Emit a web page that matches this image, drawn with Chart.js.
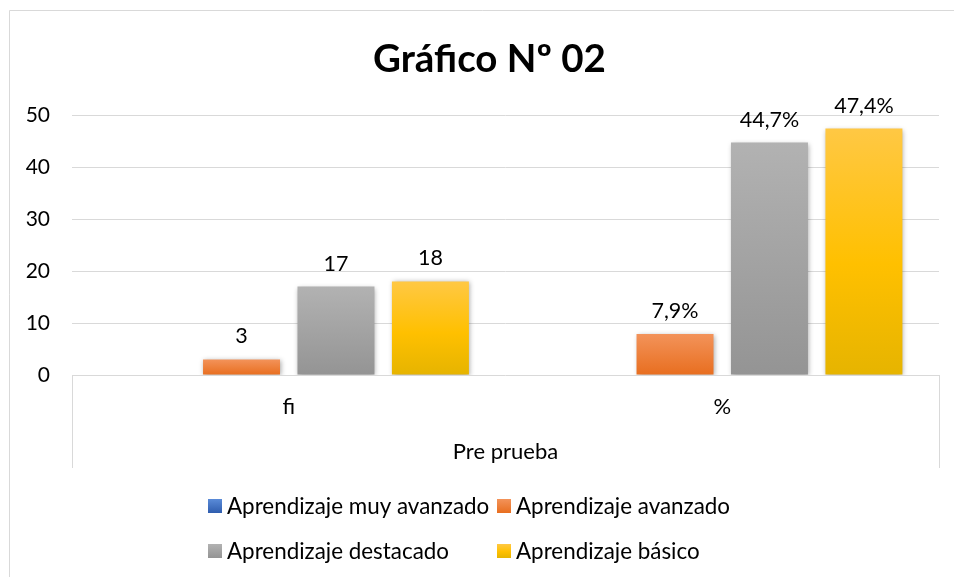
<!DOCTYPE html>
<html><head><meta charset="utf-8">
<script src="https://cdn.jsdelivr.net/npm/chart.js@4/dist/chart.umd.min.js"></script>
<style>html,body{margin:0;padding:0;background:#fff}canvas{display:block}</style>
</head><body>
<canvas id="c" width="954" height="577"></canvas>
<script>
// ---- data ----
const chartTitle = 'Gráfico Nº 02';
const groupTitle = 'Pre prueba';
const categories = ['fi', '%'];
const seriesNames = ['Aprendizaje muy avanzado', 'Aprendizaje avanzado', 'Aprendizaje destacado', 'Aprendizaje básico'];
const muyAvanzado = [0, 0];
const avanzado = [3, 7.9];
const destacado = [17, 44.7];
const basico = [18, 47.4];
const yMin = 0, yMax = 50, yStep = 10;

// ---- style ----
const FONT = 'Lato, "Open Sans", sans-serif';
const gradients = [
  [[0, '#5A8BD8'], [1, '#2F5DAE']],
  [[0, '#F3935A'], [1, '#E86E1F']],
  [[0, '#B2B2B2'], [1, '#949494']],
  [[0, '#FFC844'], [0.55, '#FFC000'], [1, '#E6B400']]
];
const showLabels = [false, true, true, true];
const seriesValues = [muyAvanzado, avanzado, destacado, basico];

function fmt(v, i) {
  return i === 0 ? String(Math.round(v)) : v.toFixed(1).replace('.', ',') + '%';
}

function barGradient(stops) {
  return function (ctx) {
    const chart = ctx.chart;
    if (ctx.type !== 'data' || !chart.chartArea || !chart.scales || !chart.scales.y) return stops[Math.floor(stops.length / 2)][1];
    const y = chart.scales.y;
    const top = y.getPixelForValue(ctx.raw);
    const base = y.getPixelForValue(0);
    if (!(base - top > 0.5)) return stops[0][1];
    const g = chart.ctx.createLinearGradient(0, top, 0, base);
    stops.forEach(s => g.addColorStop(s[0], s[1]));
    return g;
  };
}

const decor = {
  id: 'decor',
  beforeDraw(chart) {
    const c = chart.ctx;
    c.save();
    c.fillStyle = '#fff';
    c.fillRect(0, 0, chart.width, chart.height);
    c.strokeStyle = '#D9D9D9';
    c.lineWidth = 1;
    c.beginPath();
    c.moveTo(9.5, chart.height + 5);
    c.lineTo(9.5, 10.5);
    c.lineTo(chart.width + 5, 10.5);
    c.stroke();
    c.restore();
  },
  beforeDatasetDraw(chart) {
    const c = chart.ctx;
    c.save();
    c.shadowColor = 'rgba(0,0,0,0.35)';
    c.shadowBlur = 5;
    c.shadowOffsetX = 1;
    c.shadowOffsetY = 1;
  },
  afterDatasetDraw(chart) {
    chart.ctx.restore();
  },
  afterDatasetsDraw(chart) {
    const c = chart.ctx;
    c.save();
    c.fillStyle = '#000';
    c.font = '21.5px ' + FONT;
    c.textAlign = 'center';
    c.textBaseline = 'alphabetic';
    chart.data.datasets.forEach((ds, d) => {
      if (!showLabels[d]) return;
      chart.getDatasetMeta(d).data.forEach((el, i) => {
        c.fillText(fmt(ds.data[i], i), el.x, el.y - 16);
      });
    });
    c.restore();
  },
  afterDraw(chart) {
    const c = chart.ctx;
    const a = chart.chartArea;
    c.save();
    // category separators
    c.strokeStyle = '#D9D9D9';
    c.lineWidth = 1;
    c.beginPath();
    [a.left, a.right].forEach(x => {
      const px = Math.round(x) + 0.5;
      c.moveTo(px, a.bottom);
      c.lineTo(px, 468);
    });
    c.stroke();
    // group title
    c.fillStyle = '#000';
    c.font = '22px ' + FONT;
    c.textAlign = 'center';
    c.textBaseline = 'middle';
    c.fillText(groupTitle, (a.left + a.right) / 2, 452);
    // chart title
    c.font = 'bold 38.5px ' + FONT;
    c.fillText(chartTitle, 489.5, 60);
    // legend
    const cols = [208, 497];
    const rows = [506, 551];
    c.font = '22.4px ' + FONT;
    c.textAlign = 'left';
    seriesNames.forEach((name, k) => {
      const x = cols[k % 2], y = rows[Math.floor(k / 2)];
      const g = c.createLinearGradient(0, y - 7, 0, y + 7);
      gradients[k].forEach(s => g.addColorStop(s[0], s[1]));
      c.fillStyle = g;
      c.fillRect(x, y - 7, 14, 14);
      c.fillStyle = '#000';
      c.fillText(name, x + 19, y + 1);
    });
    c.restore();
  }
};

new Chart(document.getElementById('c'), {
  type: 'bar',
  data: {
    labels: categories,
    datasets: seriesValues.map((vals, k) => ({
      label: seriesNames[k],
      data: vals,
      backgroundColor: barGradient(gradients[k]),
      borderWidth: 0,
      categoryPercentage: 0.8715,
      barPercentage: 0.815
    }))
  },
  options: {
    responsive: false,
    animation: false,
    events: [],
    layout: { padding: { top: 115, right: 15, bottom: 0, left: 0 } },
    plugins: { legend: { display: false }, title: { display: false }, tooltip: { enabled: false } },
    scales: {
      x: {
        grid: { display: false, drawTicks: false },
        border: { display: false },
        ticks: { color: '#000', font: { family: FONT, size: 22 }, padding: 19 },
        afterFit(s) { s.height = 202; }
      },
      y: {
        min: yMin, max: yMax,
        grid: { color: '#D9D9D9', lineWidth: 1, drawTicks: false },
        border: { display: false },
        ticks: { stepSize: yStep, color: '#000', font: { family: FONT, size: 21 }, padding: 22 },
        afterFit(s) { s.width = 72; }
      }
    }
  },
  plugins: [decor]
});
</script>
</body></html>
